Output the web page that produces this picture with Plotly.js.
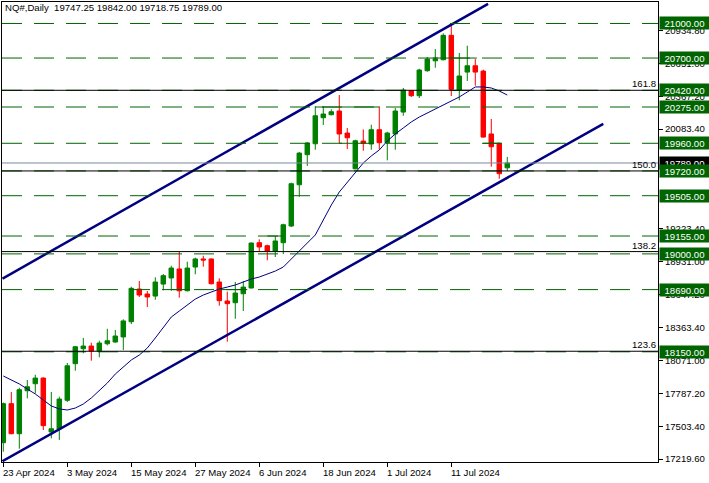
<!DOCTYPE html>
<html><head><meta charset="utf-8">
<script src="https://cdn.plot.ly/plotly-3.0.1.min.js"></script>
<style>html,body{margin:0;padding:0;background:#fff}#chart{width:709px;height:483px}</style>
</head><body><div id="chart"></div>
<script>
// ---- DATA ----
const dates = ['2024-04-23','2024-04-24','2024-04-25','2024-04-26','2024-04-29','2024-04-30','2024-05-01','2024-05-02','2024-05-03',
'2024-05-06','2024-05-07','2024-05-08','2024-05-09','2024-05-10','2024-05-13','2024-05-14','2024-05-15','2024-05-16','2024-05-17',
'2024-05-20','2024-05-21','2024-05-22','2024-05-23','2024-05-24','2024-05-27','2024-05-28','2024-05-29','2024-05-30','2024-05-31',
'2024-06-03','2024-06-04','2024-06-05','2024-06-06','2024-06-07','2024-06-10','2024-06-11','2024-06-12','2024-06-13','2024-06-14',
'2024-06-17','2024-06-18','2024-06-20','2024-06-21','2024-06-24','2024-06-25','2024-06-26','2024-06-27','2024-06-28','2024-07-01',
'2024-07-02','2024-07-03','2024-07-04','2024-07-05','2024-07-08','2024-07-09','2024-07-10','2024-07-11','2024-07-12','2024-07-15',
'2024-07-16','2024-07-17','2024-07-18','2024-07-19','2024-07-22'];
const openP = [17361,17700,17439,17812,17873,17922,17454,17480,17729,18047,
18177,18200,18157,18220,18235,18279,18411,18695,18652,18634,
18738,18791,18869,18680,18886,18956,18956,18756,18591,18576,
18654,18704,19097,19071,19022,19097,19242,19600,19861,19956,
20182,20208,20240,20049,19739,19979,19954,20078,19965,20041,
20231,20416,20373,20590,20676,20685,20897,20422,20578,20633,
20587,20041,19960,19747.25];
const highP = [17710,17801,17838,17905,17951,17930,17801,17760,18053,18200,
18270,18229,18246,18350,18339,18432,18715,18765,18678,18797,
18825,18897,19019,18932,18967,18984,18960,18788,18672,18756,
18765,19100,19126,19080,19152,19262,19618,19884,19971,20283,
20283,20255,20379,20093,19991,20080,20121,20280,20060,20266,
20440,20422,20607,20709,20778,20914,20989,20744,20807,20691,
20599,20171,19965,19842.00];
const lowP = [17283,17435,17309,17746,17790,17471,17399,17385,17714,17986,
18137,18073,18102,18206,18229,18166,18391,18626,18539,18602,
18684,18680,18620,18675,18823,18889,18735,18550,18238,18437,
18504,18700,19022,18944,18973,18999,19233,19496,19763,19904,
20119,20203,19962,19910,19734,19895,19904,19908,19812,19904,
20199,20362,20353,20581,20616,20680,20370,20333,20501,20460,
20010,19757,19652,19718.75];
const closeP = [17700,17439,17821,17847,17922,17509,17482,17740,18029,18194,
18200,18157,18226,18246,18287,18418,18701,18643,18626,18756,
18811,18877,18680,18877,18956,18947,18741,18594,18568,18660,
18712,19094,19060,19022,19112,19253,19609,19875,19962,20199,
20214,20234,20041,20008,19982,19959,20078,19965,20049,20240,
20420,20373,20596,20691,20691,20897,20428,20544,20633,20578,
20014,19930,19696,19789.00];
const maP = [17940,17905,17871,17827,17784,17732,17680,17654,17645,17662,
17697,17749,17810,17879,17957,18018,18079,18122,18183,18270,
18365,18452,18504,18556,18608,18643,18669,18695,18712,18730,
18756,18782,18799,18825,18851,18886,18956,19025,19094,19164,
19294,19424,19537,19624,19702,19789,19850,19902,19980,20041,
20093,20145,20188,20223,20258,20292,20327,20362,20405,20449,
20449,20440,20414,20379];

const xLabelDates = ['2024-04-23','2024-05-03','2024-05-15','2024-05-27','2024-06-06','2024-06-18','2024-07-01','2024-07-11'];
const xLabelText = ['23 Apr 2024','3 May 2024','15 May 2024','27 May 2024','6 Jun 2024','18 Jun 2024','1 Jul 2024','11 Jul 2024'];
// right-axis price scale labels that are visible (others are covered by the level boxes)
const yTickVals = [20934.80,20651.00,20367.20,20083.40,19223.40,18931.00,18647.20,18363.40,18071.00,17787.20,17503.40,17219.60];

const levelPrices = [21000,20700,20420,20275,19960,19720,19505,19155,19000,18690,18150];
const fibPrices = [20420,19720,19020,18155];
const fibLabels = ['161.8','150.0','138.2','123.6'];
const currentPrice = 19789.00;
const headerText = 'NQ#,Daily  19747.25 19842.00 19718.75 19789.00';

// short horizontal segments (level, start bar, end bar)
const segLevel = [19155,20275,20700,19960,19960,18690,18690];
const segStart = [33,39,53.7,42,60,21,26.8];
const segEnd   = [35,47,59.2,43.7,62,23.3,30.5];

// channel anchors (bar index, price)
const chLowerIdx = [-0.1, 75];
const chLowerPrice = [17201, 20128];
const chUpperIdx = [-0.1, 60.6];
const chUpperPrice = [18786, 21170];

// ---- BUILD ----
const idx = dates.map((d,i)=>i);
const xTickIdx = xLabelDates.map(d => dates.indexOf(d));
const FONT = 'Liberation Sans, Arial, sans-serif';
const FS = 9.6;
const GREEN_LINE = '#006400';

const traces = [
  {type:'candlestick', x: idx, open: openP, high: highP, low: lowP, close: closeP,
   increasing:{line:{color:'#008000', width:1}, fillcolor:'#008000'},
   decreasing:{line:{color:'#FF0000', width:1}, fillcolor:'#FF0000'},
   whiskerwidth:0, hoverinfo:'skip', showlegend:false},
  {type:'scatter', mode:'lines', x: idx, y: maP, line:{color:'#000080', width:1}, hoverinfo:'skip'},
  {type:'scatter', mode:'lines', x: chLowerIdx, y: chLowerPrice, line:{color:'#000080', width:2.5}, hoverinfo:'skip'},
  {type:'scatter', mode:'lines', x: chUpperIdx, y: chUpperPrice, line:{color:'#000080', width:2.5}, hoverinfo:'skip'}
];

const shapes = [];
levelPrices.forEach(p => shapes.push({type:'line', xref:'paper', x0:0, x1:1, yref:'y', y0:p, y1:p,
  line:{color:GREEN_LINE, width:1, dash:'20px,12px'}}));
segLevel.forEach((p,i) => shapes.push({type:'line', xref:'x', x0:segStart[i], x1:segEnd[i], yref:'y', y0:p, y1:p,
  line:{color:GREEN_LINE, width:1}}));
shapes.push({type:'line', xref:'paper', x0:0, x1:1, yref:'y', y0:currentPrice, y1:currentPrice, line:{color:'#778899', width:1}});
fibPrices.forEach(p => shapes.push({type:'line', xref:'paper', x0:0, x1:1, yref:'y', y0:p, y1:p, line:{color:'#000000', width:1}}));

const annotations = [];
annotations.push({xref:'paper', yref:'paper', x:0, y:1, xanchor:'left', yanchor:'top', xshift:1, yshift:2,
  text: headerText, showarrow:false, font:{family:FONT, size:FS, color:'#000'}});
xLabelText.forEach((t,i) => annotations.push({xref:'x', yref:'paper', x:xTickIdx[i], y:0, xanchor:'left', yanchor:'top',
  xshift:-2, yshift:-3, text:t, showarrow:false, font:{family:FONT, size:FS, color:'#000'}}));
fibLabels.forEach((t,i) => annotations.push({xref:'paper', yref:'y', x:1, y:fibPrices[i], xanchor:'right', yanchor:'bottom',
  xshift:0, yshift:-1, text:t, showarrow:false, font:{family:FONT, size:FS, color:'#000'}}));
const boxes = [{p:currentPrice, bg:'#000000'}].concat(levelPrices.map(p => ({p:p, bg:GREEN_LINE})));
boxes.forEach(b => annotations.push({xref:'paper', yref:'y', x:1, y:b.p, xanchor:'left', yanchor:'middle', xshift:1,
  text:b.p.toFixed(2), showarrow:false, bgcolor:b.bg, borderpad:0.5, width:48, height:11, align:'center',
  font:{family:FONT, size:FS, color:'#FFFFFF'}}));

const layout = {
  width:709, height:483,
  margin:{l:2, r:51, t:2, b:21, pad:0},
  paper_bgcolor:'#FFFFFF', plot_bgcolor:'#FFFFFF',
  showlegend:false, boxgap:0.2, boxgroupgap:0.3, dragmode:false,
  xaxis:{type:'linear', range:[-0.1625, 81.84], showgrid:false, zeroline:false, showline:true, linecolor:'#000', linewidth:1,
    mirror:true, ticks:'outside', ticklen:4, tickcolor:'#000', tickvals:xTickIdx, showticklabels:false,
    rangeslider:{visible:false}, fixedrange:true},
  yaxis:{side:'right', range:[17193.56, 21186.4], showgrid:false, zeroline:false, showline:true, linecolor:'#000', linewidth:1,
    mirror:true, ticks:'outside', ticklen:4, tickcolor:'#000', tickvals:yTickVals, ticktext:yTickVals.map(v=>v.toFixed(2)),
    tickfont:{family:FONT, size:FS, color:'#000'}, fixedrange:true},
  shapes:shapes, annotations:annotations
};
Plotly.newPlot('chart', traces, layout, {displayModeBar:false, staticPlot:true});
</script></body></html>
